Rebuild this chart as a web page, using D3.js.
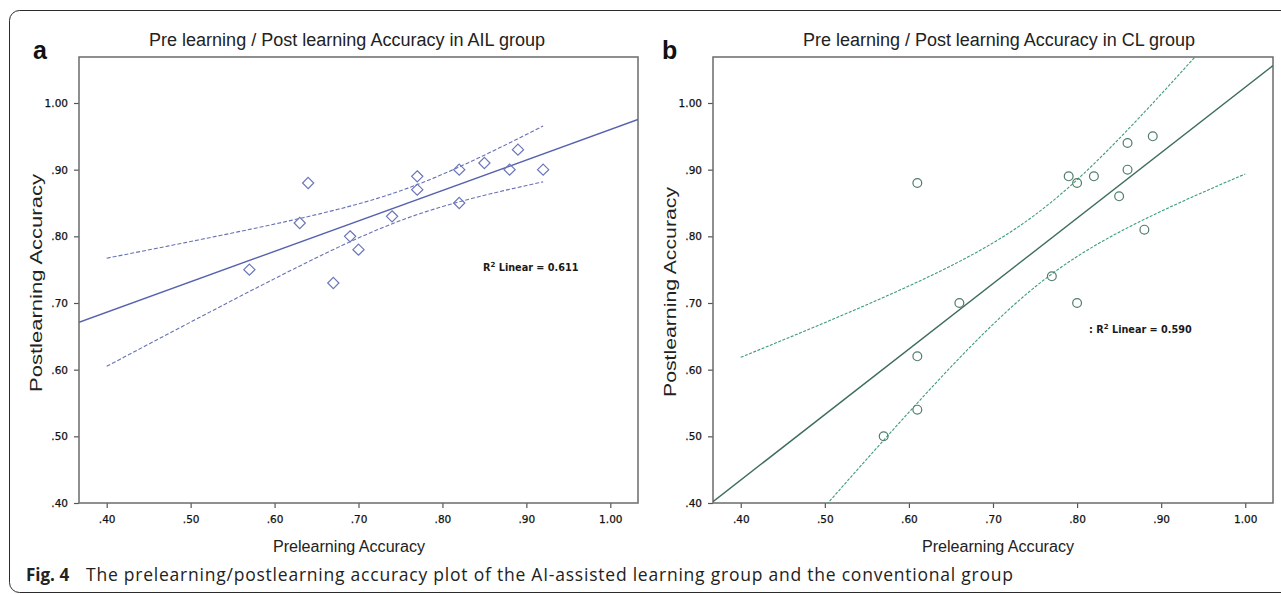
<!DOCTYPE html>
<html>
<head>
<meta charset="utf-8">
<script src="https://cdn.jsdelivr.net/npm/d3@7"></script>
<style>
  html, body { margin: 0; padding: 0; background: #fff; }
  svg { display: block; }
</style>
</head>
<body>
<svg id="fig" width="1281" height="594"></svg>
<script>
// Prelearning / postlearning accuracy, one row per student
const ailPre  = [0.57, 0.63, 0.64, 0.67, 0.69, 0.70, 0.74, 0.77, 0.77, 0.82, 0.82, 0.85, 0.88, 0.89, 0.92];
const ailPost = [0.75, 0.82, 0.88, 0.73, 0.80, 0.78, 0.83, 0.89, 0.87, 0.90, 0.85, 0.91, 0.90, 0.93, 0.90];

const clPre   = [0.61, 0.79, 0.80, 0.82, 0.86, 0.89, 0.86, 0.85, 0.88, 0.77, 0.66, 0.80, 0.61, 0.61, 0.57];
const clPost  = [0.88, 0.89, 0.88, 0.89, 0.94, 0.95, 0.90, 0.86, 0.81, 0.74, 0.70, 0.70, 0.62, 0.54, 0.50];

const xTicks = [0.40, 0.50, 0.60, 0.70, 0.80, 0.90, 1.00];
const yTicks = [0.40, 0.50, 0.60, 0.70, 0.80, 0.90, 1.00];

const titles = [
  "Pre learning / Post learning Accuracy in AIL group",
  "Pre learning / Post learning Accuracy in CL group"
];
const r2Labels = ["0.611", "0.590"];
const xTitle = "Prelearning Accuracy";
const yTitle = "Postlearning Accuracy";
const captionLead = "Fig. 4";
const captionBody = "The prelearning/postlearning accuracy plot of the AI-assisted learning group and the conventional group";

// two-sided 95% t critical value, df = n - 2 = 13
const T_CRIT = 2.160;

const svg = d3.select("#fig");
const SANS = "Liberation Sans, Arial, sans-serif";
const TICK_FONT = "DejaVu Sans, Verdana, sans-serif";

// outer figure frame (open on the right)
svg.append("rect")
  .attr("x", 9.5).attr("y", 10.5)
  .attr("width", 1320).attr("height", 582)
  .attr("rx", 10).attr("ry", 10)
  .attr("fill", "none").attr("stroke", "#2b2b2b").attr("stroke-width", 1);

function fit(xs, ys) {
  const n = xs.length;
  const mx = d3.mean(xs), my = d3.mean(ys);
  let sxx = 0, sxy = 0, syy = 0;
  for (let i = 0; i < n; i++) {
    sxx += (xs[i] - mx) ** 2;
    sxy += (xs[i] - mx) * (ys[i] - my);
    syy += (ys[i] - my) ** 2;
  }
  const b = sxy / sxx, a = my - b * mx;
  const s = Math.sqrt((syy - b * sxy) / (n - 2));
  return {
    predict: x => a + b * x,
    halfWidth: x => T_CRIT * s * Math.sqrt(1 / n + (x - mx) ** 2 / sxx)
  };
}

const fmt = d => d >= 1 ? d3.format(".2f")(d) : d3.format(".2f")(d).replace(/^0/, "");

const panels = [
  {
    id: "a", letter: "a", letterX: 33,
    left: 79, right: 638, top: 57, bottom: 503,
    titleX: 347, titleLen: 396, xTitleX: 349, yTitleX: 42, yTitleY: 283, yTitleLen: 218,
    pre: ailPre, post: ailPost, marker: "diamond",
    fitColor: "#5662ae", bandColor: "#6872b4", markColor: "#6a76b8",
    bandFrom: 0.40, bandTo: 0.92, dash: "4,2",
    r2X: 483, r2Y: 271, r2Prefix: ""
  },
  {
    id: "b", letter: "b", letterX: 662,
    left: 713, right: 1273, top: 57, bottom: 503,
    titleX: 999, titleLen: 392, xTitleX: 998, yTitleX: 676, yTitleY: 292, yTitleLen: 210,
    pre: clPre, post: clPost, marker: "circle",
    fitColor: "#3e6e5b", bandColor: "#3c9c77", markColor: "#4f7d69",
    bandFrom: 0.40, bandTo: 1.00, dash: "3,1.5",
    r2X: 1089, r2Y: 333, r2Prefix: ": "
  }
];

panels.forEach((p, pi) => {
  const x = d3.scaleLinear().domain([0.367, 1.033]).range([p.left, p.right]);
  const y = d3.scaleLinear().domain([0.40, 1.069]).range([p.bottom, p.top]);
  const g = svg.append("g");

  // panel letter and title
  g.append("text").attr("x", p.letterX).attr("y", 59)
    .attr("font-family", SANS)
    .attr("font-weight", "bold").attr("font-size", 25).attr("fill", "#111")
    .text(p.letter);
  g.append("text").attr("x", p.titleX - p.titleLen / 2).attr("y", 46)
    .attr("font-family", SANS)
    .attr("font-size", 18).attr("fill", "#222")
    .attr("textLength", p.titleLen).attr("lengthAdjust", "spacingAndGlyphs")
    .text(titles[pi]);

  const clipId = "clip-" + p.id;
  svg.append("clipPath").attr("id", clipId)
    .append("rect").attr("x", p.left).attr("y", p.top)
    .attr("width", p.right - p.left).attr("height", p.bottom - p.top);

  // axes
  const xAxis = g.append("g").attr("transform", `translate(0,${p.bottom})`)
    .call(d3.axisBottom(x).tickValues(xTicks).tickFormat(fmt).tickSize(5).tickPadding(8));
  const yAxis = g.append("g").attr("transform", `translate(${p.left},0)`)
    .call(d3.axisLeft(y).tickValues(yTicks).tickFormat(fmt).tickSize(5).tickPadding(6));
  [xAxis, yAxis].forEach(ax => {
    ax.select(".domain").remove();
    ax.selectAll(".tick line").attr("stroke", "#555").attr("stroke-width", 1.2);
    ax.selectAll(".tick text")
      .attr("font-family", TICK_FONT)
      .attr("font-size", 10.5).attr("fill", "#111")
      .attr("stroke", "#111").attr("stroke-width", 0.25);
  });

  // plot frame
  g.append("rect").attr("x", p.left).attr("y", p.top)
    .attr("width", p.right - p.left).attr("height", p.bottom - p.top)
    .attr("fill", "none").attr("stroke", "#6b6b6b").attr("stroke-width", 1.5);

  // axis titles
  g.append("text").attr("x", p.xTitleX - 76).attr("y", 552)
    .attr("font-family", SANS)
    .attr("font-size", 16).attr("fill", "#222")
    .attr("textLength", 152).attr("lengthAdjust", "spacingAndGlyphs")
    .text(xTitle);
  g.append("text")
    .attr("transform", `translate(${p.yTitleX},${p.yTitleY + p.yTitleLen / 2}) rotate(-90)`)
    .attr("font-family", SANS)
    .attr("font-size", 16).attr("fill", "#222")
    .attr("textLength", p.yTitleLen).attr("lengthAdjust", "spacingAndGlyphs")
    .text(yTitle);

  // regression line with 95% confidence band for the mean
  const f = fit(p.pre, p.post);
  const plot = g.append("g").attr("clip-path", `url(#${clipId})`);

  const ends = x.domain();
  plot.append("path")
    .datum(ends)
    .attr("d", d3.line().x(d => x(d)).y(d => y(f.predict(d))))
    .attr("fill", "none").attr("stroke", p.fitColor).attr("stroke-width", 1.4);

  const bandXs = d3.range(0, 101).map(i => p.bandFrom + (p.bandTo - p.bandFrom) * i / 100);
  [1, -1].forEach(sign => {
    plot.append("path")
      .datum(bandXs)
      .attr("d", d3.line().x(d => x(d)).y(d => y(f.predict(d) + sign * f.halfWidth(d))))
      .attr("fill", "none").attr("stroke", p.bandColor)
      .attr("stroke-width", 1.1).attr("stroke-dasharray", p.dash);
  });

  // observations
  const pts = p.pre.map((v, i) => [v, p.post[i]]);
  if (p.marker === "diamond") {
    plot.selectAll("path.pt").data(pts).join("path").attr("class", "pt")
      .attr("d", d3.symbol().type(d3.symbolDiamond2).size(80))
      .attr("transform", d => `translate(${x(d[0])},${y(d[1])})`)
      .attr("fill", "none").attr("stroke", p.markColor).attr("stroke-width", 1.2);
  } else {
    plot.selectAll("circle.pt").data(pts).join("circle").attr("class", "pt")
      .attr("cx", d => x(d[0])).attr("cy", d => y(d[1])).attr("r", 4.4)
      .attr("fill", "none").attr("stroke", p.markColor).attr("stroke-width", 1.2);
  }

  // R² annotation
  const r2 = g.append("text").attr("x", p.r2X).attr("y", p.r2Y)
    .attr("font-family", TICK_FONT)
    .attr("font-weight", "bold").attr("font-size", 9.7).attr("fill", "#1a1a1a");
  r2.append("tspan").text(p.r2Prefix + "R");
  r2.append("tspan").attr("dy", -4).attr("font-size", 7).text("2");
  r2.append("tspan").attr("dy", 4).text(" Linear = " + r2Labels[pi]);
});

// figure caption
svg.append("text").attr("x", 26).attr("y", 581)
  .attr("font-family", "Open Sans, Noto Sans, sans-serif")
  .attr("font-size", 17).attr("font-weight", "bold").attr("fill", "#222")
  .text(captionLead);
svg.append("text").attr("x", 86).attr("y", 581)
  .attr("font-family", "Open Sans, Noto Sans, sans-serif")
  .attr("font-size", 17.5).attr("fill", "#222")
  .attr("textLength", 927).attr("lengthAdjust", "spacing")
  .text(captionBody);
</script>
</body>
</html>
